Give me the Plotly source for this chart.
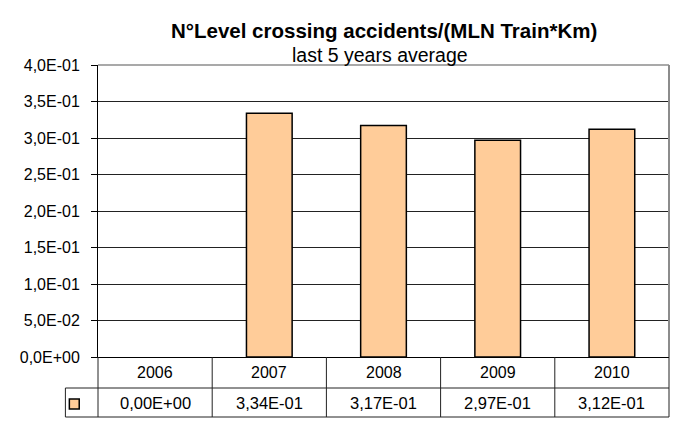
import plotly.graph_objects as go

years = ["2006", "2007", "2008", "2009", "2010"]
values = [0.0, 0.334, 0.317, 0.297, 0.312]
y_ticks = [0.0, 0.05, 0.10, 0.15, 0.20, 0.25, 0.30, 0.35, 0.40]

title_text = "N°Level crossing accidents/(MLN Train*Km)"
subtitle_text = "last 5 years average"

W, H = 693, 438
OFF = 8  # page body margin: figure origin sits at (8, 8) in the window
L, R, T, B = 91 - OFF, 669 - OFF, 65 - OFF, 357 - OFF
FONT = "Liberation Sans, Arial, sans-serif"
BAR_FILL = "#FFCC99"


def px(x):
    # x given in window pixels
    return (x - OFF - L) / (R - L)


def py(y):
    return (B - (y - OFF)) / (B - T)


def sci(v, d):
    return f"{v:.{d}E}".replace(".", ",")


fig = go.Figure()
fig.add_trace(go.Bar(
    x=years, y=values,
    marker=dict(color=BAR_FILL,
                line=dict(color="#000000", width=[0 if v == 0 else 1.5 for v in values])),
    hoverinfo="skip",
))

shapes = []
annotations = []

# plot border top/right (gray)
shapes.append(dict(type="line", xref="paper", yref="paper", x0=0, x1=1, y0=1, y1=1,
                   line=dict(color="#8c8c8c", width=1.5)))
shapes.append(dict(type="line", xref="paper", yref="paper", x0=1, x1=1, y0=0, y1=1,
                   line=dict(color="#8c8c8c", width=2)))

# data table (window pixel coordinates)
row_top, row1_bot, row2_bot = 357, 388, 417
key_left = 58
tcol = "#222222"
n = len(years)
colw = (669 - 91) / n
for i in range(n + 1):
    x = 91 + i * colw
    shapes.append(dict(type="line", xref="paper", yref="paper", x0=px(x), x1=px(x), y0=py(row_top), y1=py(row2_bot),
                       line=dict(color=tcol, width=1)))
shapes.append(dict(type="line", xref="paper", yref="paper", x0=px(key_left), x1=px(key_left), y0=py(row1_bot),
                   y1=py(row2_bot), line=dict(color=tcol, width=1)))
for yy in (row1_bot, row2_bot):
    shapes.append(dict(type="line", xref="paper", yref="paper", x0=px(key_left), x1=px(669), y0=py(yy), y1=py(yy),
                       line=dict(color=tcol, width=1)))
# legend key
shapes.append(dict(type="rect", xref="paper", yref="paper", x0=px(62), x1=px(72), y0=py(399), y1=py(409),
                   fillcolor=BAR_FILL, line=dict(color="#000", width=1.5)))

for i, (yr, v) in enumerate(zip(years, values)):
    cx = 91 + (i + 0.5) * colw
    annotations.append(dict(text=yr, xref="paper", yref="paper", x=px(cx), y=py((row_top + row1_bot) / 2),
                            showarrow=False, xanchor="center", yanchor="middle",
                            font=dict(family=FONT, size=16, color="#000")))
    annotations.append(dict(text=sci(v, 2), xref="paper", yref="paper", x=px(cx), y=py((row1_bot + row2_bot) / 2),
                            showarrow=False, xanchor="center", yanchor="middle",
                            font=dict(family=FONT, size=16.5, color="#000")))

# titles
annotations.append(dict(text="<b>" + title_text + "</b>", xref="paper", yref="paper", x=px(380), y=py(31),
                        showarrow=False, xanchor="center", yanchor="middle",
                        font=dict(family=FONT, size=20.5, color="#000")))
annotations.append(dict(text=subtitle_text, xref="paper", yref="paper", x=px(376), y=py(55),
                        showarrow=False, xanchor="center", yanchor="middle",
                        font=dict(family=FONT, size=19.5, color="#000")))

fig.update_layout(
    width=W, height=H,
    margin=dict(l=L, r=W - R, t=T, b=H - B, pad=0),
    paper_bgcolor="#ffffff", plot_bgcolor="#ffffff",
    showlegend=False,
    bargap=0.6,
    shapes=shapes,
    annotations=annotations,
    font=dict(family=FONT, size=16, color="#000"),
    xaxis=dict(showticklabels=False, showgrid=False, showline=True, linecolor="#000", linewidth=1,
               ticks="", zeroline=False, fixedrange=True),
    yaxis=dict(range=[0, 0.4], tickvals=y_ticks, ticktext=[sci(v, 1) for v in y_ticks],
               showgrid=True, gridcolor="#222222", gridwidth=1, showline=True, linecolor="#000", linewidth=1,
               ticks="outside", ticklen=6, tickcolor="#000", tickwidth=1, zeroline=False,
               ticklabelstandoff=8, tickfont=dict(family=FONT, size=16, color="#000"), fixedrange=True),
)

fig.write_html("out.html")
